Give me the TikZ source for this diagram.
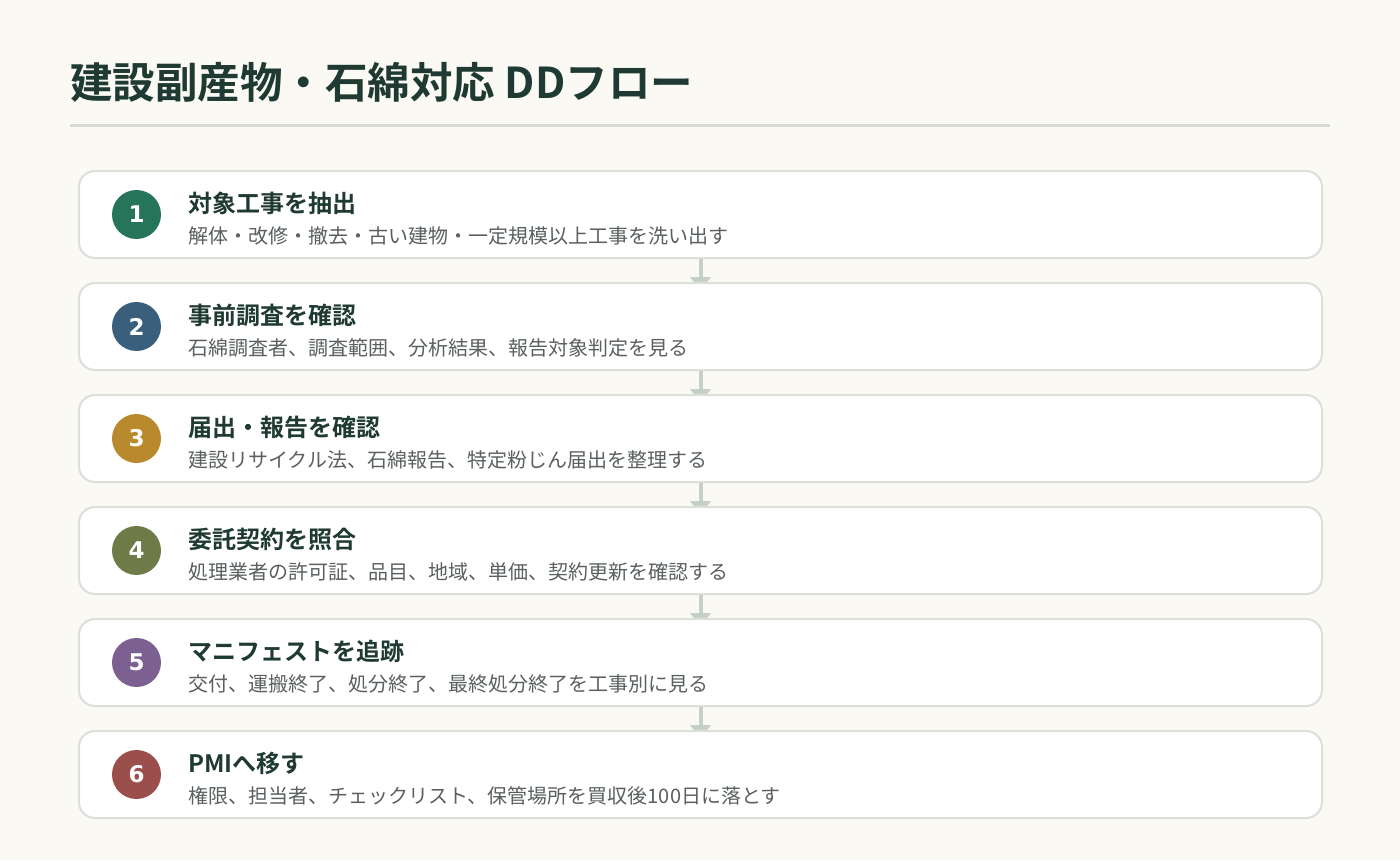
\documentclass[tikz,border=0pt]{standalone}
\usepackage{fontspec}
\setmainfont{Noto Sans CJK JP}[BoldFont={Noto Sans CJK JP Bold}]
\newfontfamily\numfont{DejaVu Sans}
\usetikzlibrary{arrows.meta}
\pgfdeclarelayer{back}
\pgfsetlayers{back,main}

\definecolor{paper}{HTML}{FAF9F4}
\definecolor{ink}{HTML}{1F3A32}
\definecolor{subink}{HTML}{5A615D}
\definecolor{edge}{HTML}{DCE0DA}
\definecolor{rulegray}{HTML}{D6DCD4}
\definecolor{flowgray}{HTML}{C6D0C9}
\definecolor{stepA}{HTML}{26745A}
\definecolor{stepB}{HTML}{3A5F7D}
\definecolor{stepC}{HTML}{B98A2D}
\definecolor{stepD}{HTML}{6E7A47}
\definecolor{stepE}{HTML}{7B6091}
\definecolor{stepF}{HTML}{9B4F4D}

\begin{document}
\begin{tikzpicture}[x=1pt,y=-1pt,
    card/.style={draw=edge,line width=2pt,fill=white,rounded corners=16pt,
      minimum width=1243pt,minimum height=87pt,inner sep=0pt},
    badge/.style={circle,minimum size=49pt,inner sep=0pt,text=white,
      font=\numfont\bfseries\fontsize{23}{26}\selectfont},
    head/.style={anchor=base west,inner sep=0pt,text=ink,
      font=\bfseries\fontsize{24}{28}\selectfont},
    note/.style={anchor=base west,inner sep=0pt,text=subink,
      font=\fontsize{20}{24}\selectfont},
    flow/.style={draw=flowgray,line width=4pt,-{Triangle[width=20pt,length=14pt]}}]
  \useasboundingbox (0,0) rectangle (1400,860);
  \begin{pgfonlayer}{back}
    \fill[paper] (0,0) rectangle (1400,860);
  \end{pgfonlayer}

  % title
  \node[anchor=base west,inner sep=0pt,text=ink,font=\bfseries\fontsize{42.5}{48}\selectfont]
    (title) at (70,98) {建設副産物・石綿対応 DDフロー};
  \draw[rulegray,line width=3pt] (70,125) -- (1330,125);

  % steps
  \node[card] (c1) at (700.5,214.5) {};
  \node[card] (c2) at (700.5,326.5) {};
  \node[card] (c3) at (700.5,438.5) {};
  \node[card] (c4) at (700.5,550.5) {};
  \node[card] (c5) at (700.5,662.5) {};
  \node[card] (c6) at (700.5,774.5) {};

  \node[badge,fill=stepA] (n1) at (136.5,214.5) {1};
  \node[badge,fill=stepB] (n2) at (136.5,326.5) {2};
  \node[badge,fill=stepC] (n3) at (136.5,438.5) {3};
  \node[badge,fill=stepD] (n4) at (136.5,550.5) {4};
  \node[badge,fill=stepE] (n5) at (136.5,662.5) {5};
  \node[badge,fill=stepF] (n6) at (136.5,774.5) {6};

  \node[head] (h1) at (188,212) {対象工事を抽出};
  \node[note] (s1) at (188,243) {解体・改修・撤去・古い建物・一定規模以上工事を洗い出す};
  \node[head] (h2) at (188,324) {事前調査を確認};
  \node[note] (s2) at (188,355) {石綿調査者、調査範囲、分析結果、報告対象判定を見る};
  \node[head] (h3) at (188,436) {届出・報告を確認};
  \node[note] (s3) at (188,467) {建設リサイクル法、石綿報告、特定粉じん届出を整理する};
  \node[head] (h4) at (188,548) {委託契約を照合};
  \node[note] (s4) at (188,579) {処理業者の許可証、品目、地域、単価、契約更新を確認する};
  \node[head] (h5) at (188,660) {マニフェストを追跡};
  \node[note] (s5) at (188,691) {交付、運搬終了、処分終了、最終処分終了を工事別に見る};
  \node[head] (h6) at (188,772) {PMIへ移す};
  \node[note] (s6) at (188,803) {権限、担当者、チェックリスト、保管場所を買収後100日に落とす};

  % connectors, under the cards
  \begin{pgfonlayer}{back}
    \draw[flow] (c1.south) -- ([yshift=-9pt]c2.north);
    \draw[flow] (c2.south) -- ([yshift=-9pt]c3.north);
    \draw[flow] (c3.south) -- ([yshift=-9pt]c4.north);
    \draw[flow] (c4.south) -- ([yshift=-9pt]c5.north);
    \draw[flow] (c5.south) -- ([yshift=-9pt]c6.north);
  \end{pgfonlayer}
\end{tikzpicture}
\end{document}
